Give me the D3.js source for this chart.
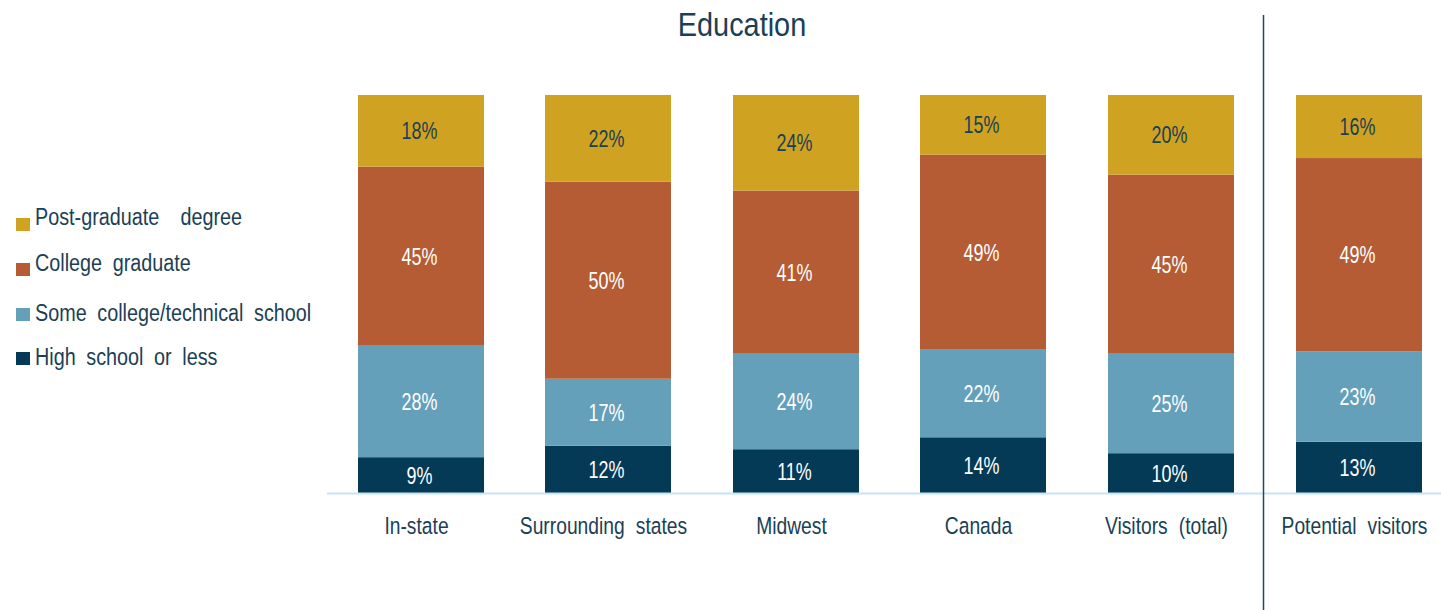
<!DOCTYPE html>
<html>
<head>
<meta charset="utf-8">
<script src="https://cdn.jsdelivr.net/npm/d3@7"></script>
<style>
  html, body { margin: 0; padding: 0; background: #fff; }
  svg { display: block; }
  text { font-family: "Liberation Sans", Arial, sans-serif; }
</style>
</head>
<body>
<svg id="chart" width="1441" height="610"></svg>
<script>
// Respondent groups (x categories)
const categories = ["In-state", "Surrounding states", "Midwest", "Canada", "Visitors (total)", "Potential visitors"];

// Education level shares (%), bottom to top in each stack
const highSchool   = [9, 12, 11, 14, 10, 13];
const someCollege  = [28, 17, 24, 22, 25, 23];
const collegeGrad  = [45, 50, 41, 49, 45, 49];
const postGrad     = [18, 22, 24, 15, 20, 16];

const seriesNames = ["High school or less", "Some college/technical school", "College graduate", "Post-graduate  degree"];
const seriesValues = [highSchool, someCollege, collegeGrad, postGrad];

const colors = ["#043a56", "#65a0bb", "#b55c34", "#cfa221"];
const labelColors = ["#ffffff", "#ffffff", "#ffffff", "#1b3f55"];
const textColor = "#1b3f55";

// Condensed look: regular sans squeezed horizontally
const SQUEEZE = 0.82;

const svg = d3.select("#chart");

// Each stack is shown as shares of its own total
const rows = categories.map((c, i) => {
  const row = { category: c };
  seriesNames.forEach((s, k) => { row[s] = seriesValues[k][i]; });
  return row;
});
const stack = d3.stack().keys(seriesNames).offset(d3.stackOffsetExpand);
const layers = stack(rows);

// Bar slots: five visitor groups, then the separated potential-visitor bar
const centers = [421, 608, 796, 983, 1171, 1359];
const barW = 126;
const x = d3.scaleOrdinal().domain(categories).range(centers);
const y = d3.scaleLinear().domain([0, 1]).range([493, 95]);

// Title
svg.append("text")
  .attr("transform", `translate(742,36) scale(0.85,1)`)
  .attr("text-anchor", "middle")
  .attr("font-size", 34)
  .attr("fill", textColor)
  .text("Education");

// Stacked segments with value labels
const g = svg.append("g");
layers.forEach((layer, k) => {
  const lg = g.append("g");
  lg.selectAll("rect")
    .data(layer)
    .join("rect")
    .attr("x", d => x(d.data.category) - barW / 2)
    .attr("width", barW)
    .attr("y", d => y(d[1]))
    .attr("height", d => y(d[0]) - y(d[1]))
    .attr("fill", colors[k]);
  lg.selectAll("text")
    .data(layer)
    .join("text")
    .attr("transform", d => `translate(${x(d.data.category) - 1.5},${(y(d[0]) + y(d[1])) / 2 + 8.5}) scale(0.78,1)`)
    .attr("text-anchor", "middle")
    .attr("font-size", 23)
    .attr("fill", labelColors[k])
    .text((d, i) => seriesValues[k][i] + "%");
});

// Baseline
svg.append("line")
  .attr("x1", 327).attr("x2", 1441)
  .attr("y1", 493.5).attr("y2", 493.5)
  .attr("stroke", "#c6e4f3").attr("stroke-width", 2);

// Divider between visitors and potential visitors
svg.append("line")
  .attr("x1", 1263.5).attr("x2", 1263.5)
  .attr("y1", 15).attr("y2", 610)
  .attr("stroke", "#1f4a62").attr("stroke-width", 1.5);

// Category axis labels
const xAxis = d3.axisBottom(x).tickSize(0).tickPadding(0);
const ax = svg.append("g").attr("transform", "translate(-5,493)").call(xAxis);
ax.select(".domain").remove();
ax.selectAll("text")
  .attr("y", 0)
  .attr("dy", 0)
  .attr("transform", `translate(0,41) scale(${SQUEEZE},1)`)
  .attr("font-size", 23.5)
  .attr("fill", textColor)
  .style("white-space", "pre")
  .style("word-spacing", "7px")
  .style("font-family", "'Liberation Sans', Arial, sans-serif");

// Legend, top entry first
const legendText = [225, 271, 321, 365];
const legendBox = [218, 263, 308, 352];
const legendItems = seriesNames.map((n, k) => ({ name: n, color: colors[k] })).reverse();
const leg = svg.append("g");
legendItems.forEach((d, i) => {
  leg.append("rect")
    .attr("x", 16).attr("y", legendBox[i])
    .attr("width", 14).attr("height", 13)
    .attr("fill", d.color);
  leg.append("text")
    .attr("transform", `translate(35,${legendText[i]}) scale(0.86,1)`)
    .attr("font-size", 23)
    .attr("fill", textColor)
    .style("white-space", "pre")
    .style("word-spacing", "6px")
    .text(d.name);
});
</script>
</body>
</html>
